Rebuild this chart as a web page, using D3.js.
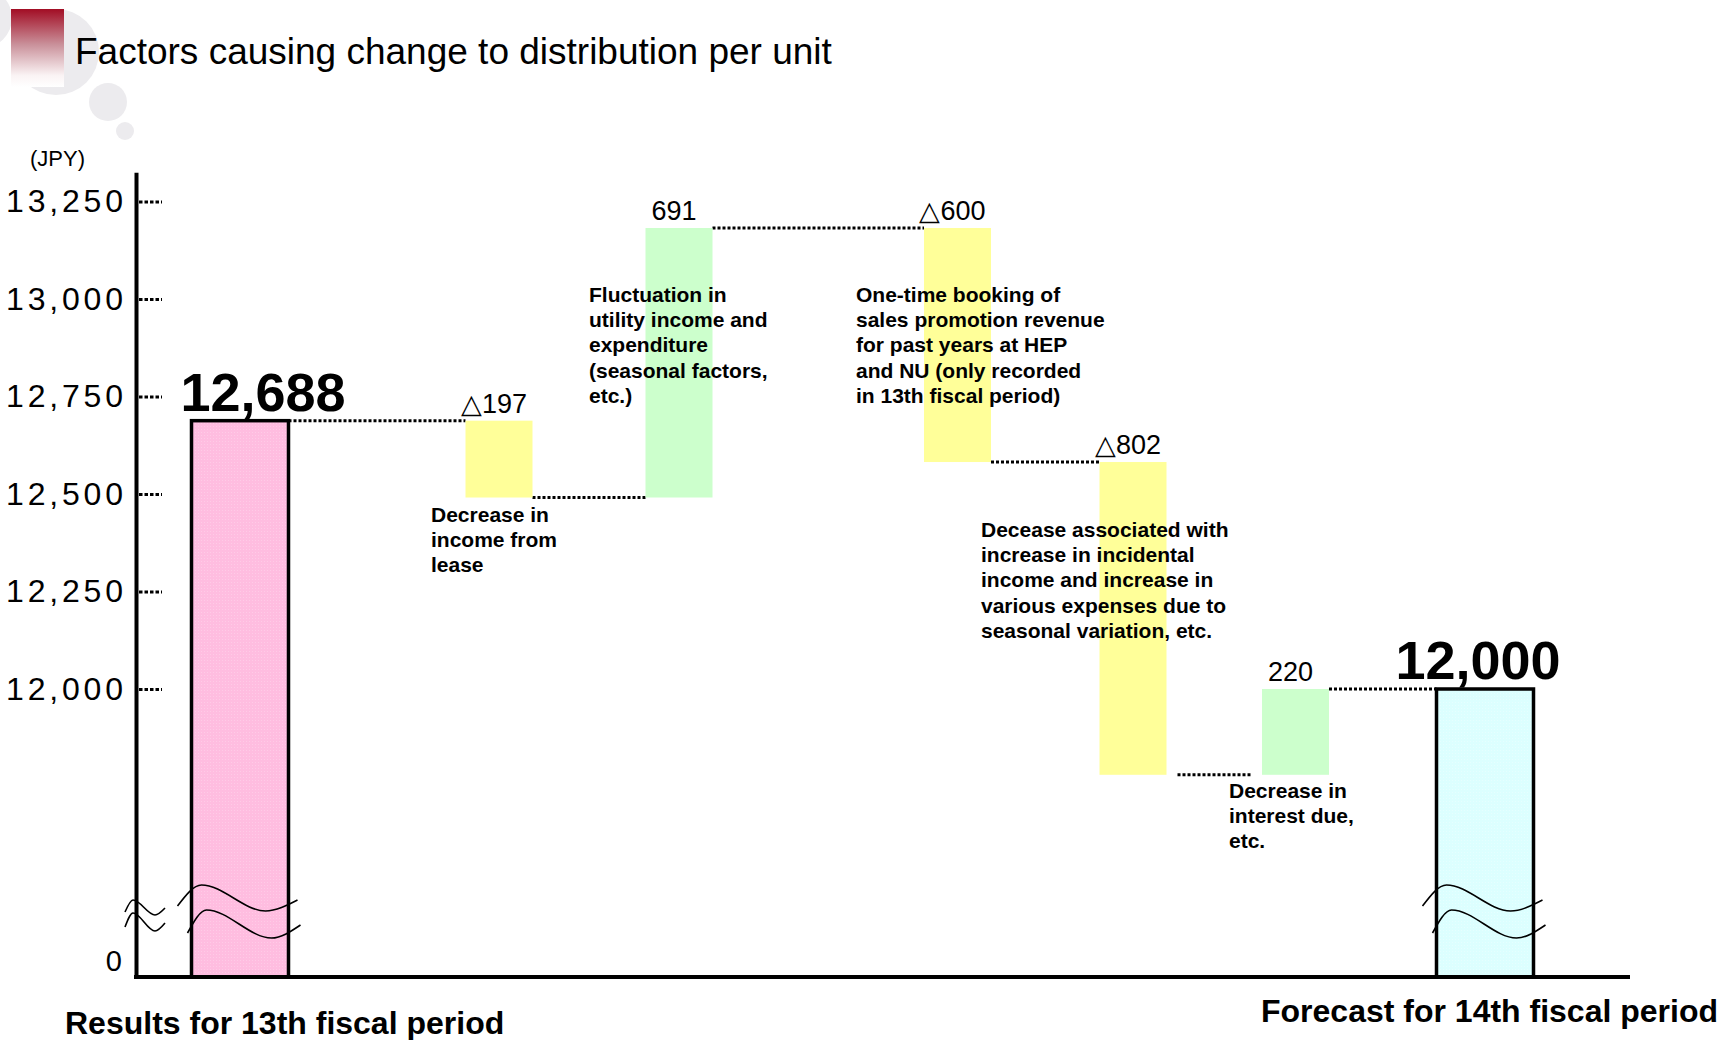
<!DOCTYPE html>
<html>
<head>
<meta charset="utf-8">
<script src="https://cdn.jsdelivr.net/npm/d3@7"></script>
<style>
  html, body { margin: 0; padding: 0; background: #fff; }
  svg { display: block; font-family: "Liberation Sans", Arial, Helvetica, sans-serif; }
</style>
</head>
<body>
<svg id="chart" width="1719" height="1040"></svg>
<script>
// Bridge of distribution per unit (JPY): 13th period result -> 14th period forecast

const title = "Factors causing change to distribution per unit";
const unitLabel = "(JPY)";

const categories = [
  "13th period result",
  "Lease income",
  "Utility income and expenditure",
  "Sales promotion revenue",
  "Incidental income and expenses",
  "Interest due",
  "14th period forecast"
];
const barKinds = ["total", "change", "change", "change", "change", "change", "total"];
const values = [12688, -197, 691, -600, -802, 220, 12000];
const valueLabels = ["12,688", "△197", "691", "△600", "△802", "220", "12,000"];

const notes = [
  [],
  ["Decrease in", "income from", "lease"],
  ["Fluctuation in", "utility income and", "expenditure", "(seasonal factors,", "etc.)"],
  ["One-time booking of", "sales promotion revenue", "for past years at HEP", "and NU (only recorded", "in 13th fiscal period)"],
  ["Decease associated with", "increase in incidental", "income and increase in", "various expenses due to", "seasonal variation, etc."],
  ["Decrease in", "interest due,", "etc."],
  []
];

const yTickValues = [0, 12000, 12250, 12500, 12750, 13000, 13250];
const periodLabels = ["Results for 13th fiscal period", "Forecast for 14th fiscal period"];

// ---------- layout ----------
const W = 1719, H = 1040;
const axisX = 136, axisRight = 1630;
const colCenters = [240, 499, 679, 957.5, 1133, 1295.5, 1485];
const totalWidth = 97, changeWidth = 67;
const totalLabelDx = [23, 0, 0, 0, 0, 0, -7];
const connectorInset = [0, 0, 0, 0, 11, 0];
const noteAnchors = [null, [431, 522], [589, 302], [856, 302], [981, 537], [1229, 798], null];
const noteLineHeight = 25.2;
const colors = { start: "#ffbde0", end: "#dcffff", down: "#ffff99", up: "#ccffcc" };

const svg = d3.select("#chart");

// Scales: the value axis is broken between 0 and the 12,000 region
const y = d3.scaleLinear()
  .domain([0, 11380, 13325])
  .range([977, 930.8, 172.25]);
const x = d3.scaleOrdinal().domain(categories).range(colCenters);

// ---------- fills ----------
const defs = svg.append("defs");
const grad = defs.append("linearGradient").attr("id", "markGrad")
  .attr("x1", 0).attr("y1", 0).attr("x2", 0).attr("y2", 1);
grad.append("stop").attr("offset", 0).attr("stop-color", "#a20d24");
grad.append("stop").attr("offset", 0.45).attr("stop-color", "#c98f99");
grad.append("stop").attr("offset", 0.85).attr("stop-color", "#faf3f4");
grad.append("stop").attr("offset", 1).attr("stop-color", "#ffffff");

function dotPattern(id, base, dot) {
  const p = defs.append("pattern").attr("id", id)
    .attr("patternUnits", "userSpaceOnUse").attr("width", 3).attr("height", 3);
  p.append("rect").attr("width", 3).attr("height", 3).attr("fill", base);
  p.append("rect").attr("width", 1).attr("height", 1).attr("fill", dot);
}
dotPattern("pinkFill", colors.start, "#ffcbe7");
dotPattern("cyanFill", colors.end, "#e6ffff");

// ---------- heading ----------
const deco = svg.append("g").attr("fill", "#ecebee");
deco.append("circle").attr("cx", -18).attr("cy", 18).attr("r", 30);
deco.append("circle").attr("cx", 56).attr("cy", 52).attr("r", 43);
deco.append("circle").attr("cx", 108).attr("cy", 102).attr("r", 19);
deco.append("circle").attr("cx", 125).attr("cy", 131).attr("r", 9);
svg.append("rect").attr("x", 11).attr("y", 9).attr("width", 53).attr("height", 78)
  .attr("fill", "url(#markGrad)");
svg.append("text").attr("x", 75).attr("y", 64)
  .attr("font-size", 37).attr("fill", "#000").text(title);

svg.append("text").attr("x", 30).attr("y", 166)
  .attr("font-size", 22).text(unitLabel);

// ---------- waterfall geometry ----------
let level = 0;
const steps = values.map((v, i) => {
  let lo, hi, after;
  if (barKinds[i] === "total") { lo = 0; hi = v; after = v; }
  else { const a = level, b = level + v; lo = Math.min(a, b); hi = Math.max(a, b); after = b; }
  level = after;
  const w = barKinds[i] === "total" ? totalWidth : changeWidth;
  return { i, cat: categories[i], kind: barKinds[i], v, lo, hi, after, w, cx: x(categories[i]) };
});

// ---------- connectors ----------
const conn = svg.append("g").attr("stroke", "#000").attr("stroke-width", 3)
  .attr("stroke-dasharray", "3,2");
steps.slice(0, -1).forEach((s, k) => {
  const n = steps[k + 1];
  const yy = y(s.after);
  conn.append("line")
    .attr("x1", s.cx + s.w / 2 + connectorInset[k]).attr("x2", n.cx - n.w / 2 - connectorInset[k])
    .attr("y1", yy).attr("y2", yy);
});

// ---------- bars ----------
svg.append("g").selectAll("rect").data(steps).join("rect")
  .attr("x", d => d.cx - d.w / 2)
  .attr("width", d => d.w)
  .attr("y", d => y(d.hi))
  .attr("height", d => y(d.lo) - y(d.hi))
  .attr("fill", d => d.kind === "total" ? (d.i === 0 ? "url(#pinkFill)" : "url(#cyanFill)")
                                         : (d.v < 0 ? colors.down : colors.up))
  .attr("stroke", d => d.kind === "total" ? "#000" : "none")
  .attr("stroke-width", 3.5);

// ---------- notes ----------
const noteG = svg.append("g").attr("font-size", 21).attr("font-weight", "bold").attr("fill", "#000");
notes.forEach((lines, i) => {
  if (!lines.length) return;
  const [nx, ny] = noteAnchors[i];
  const t = noteG.append("text").attr("x", nx).attr("y", ny);
  lines.forEach((ln, j) => t.append("tspan").attr("x", nx).attr("dy", j === 0 ? 0 : noteLineHeight).text(ln));
});

// ---------- value labels ----------
svg.append("g").selectAll("text").data(steps).join("text")
  .attr("text-anchor", "middle")
  .attr("x", d => d.kind === "total" ? d.cx + totalLabelDx[d.i] : d.cx - 5)
  .attr("y", d => y(d.hi) - (d.kind === "total" ? 10 : 8))
  .attr("font-size", d => d.kind === "total" ? 54 : 27)
  .attr("font-weight", d => d.kind === "total" ? "bold" : "normal")
  .text((d, i) => valueLabels[i]);

// ---------- value axis ----------
const yAxis = d3.axisLeft(y).tickValues(yTickValues).tickSize(0).tickSizeOuter(0)
  .tickPadding(14).tickFormat(d3.format(","));
const ag = svg.append("g").attr("transform", `translate(${axisX},0)`).call(yAxis);
ag.select(".domain").attr("stroke", "#000").attr("stroke-width", 4);
ag.selectAll(".tick text")
  .attr("fill", "#000")
  .attr("font-family", "\"Liberation Sans\", Arial, sans-serif")
  .attr("font-size", d => d === 0 ? 29 : 32)
  .each(function (d) {
    const t = d3.select(this);
    if (d === 0) {
      t.attr("x", -14).attr("y", -16);
    } else {
      t.attr("text-anchor", "start").attr("x", 6 - axisX)
        .attr("textLength", 117).attr("lengthAdjust", "spacing");
    }
  });
// dotted tick marks pointing into the plot
ag.selectAll(".tick").filter(d => d !== 0).append("line")
  .attr("x1", 3).attr("x2", 26).attr("y1", 0).attr("y2", 0)
  .attr("stroke", "#000").attr("stroke-width", 3).attr("stroke-dasharray", "3.5,2");

// category baseline
svg.append("line").attr("x1", axisX - 2).attr("x2", axisRight)
  .attr("y1", y(0)).attr("y2", y(0)).attr("stroke", "#000").attr("stroke-width", 4);

// ---------- axis-break marks ----------
const wave = d3.line().curve(d3.curveMonotoneX);
const brk = svg.append("g").attr("fill", "none").attr("stroke", "#000").attr("stroke-width", 1.6);
const crestY = 885;
brk.append("path").attr("d", wave([[125, crestY + 27], [133, crestY + 15], [155, crestY + 30], [165, crestY + 23]]));
brk.append("path").attr("d", wave([[125, crestY + 42], [133, crestY + 28], [155, crestY + 46], [165, crestY + 38]]));
steps.filter(d => d.kind === "total").forEach(d => {
  const L = d.cx - d.w / 2, R = d.cx + d.w / 2;
  brk.append("path").attr("d", wave([[L - 14, crestY + 21], [L + 10, crestY], [L + 74, crestY + 26], [R + 9, crestY + 15]]));
  brk.append("path").attr("d", wave([[L - 4, crestY + 48], [L + 15, crestY + 25], [L + 80, crestY + 53], [R + 12, crestY + 40]]));
});

// ---------- period labels ----------
const pl = svg.append("g").attr("font-size", 32).attr("font-weight", "bold");
pl.append("text").attr("x", 65).attr("y", 1034).text(periodLabels[0]);
pl.append("text").attr("x", 1261).attr("y", 1022).text(periodLabels[1]);
</script>
</body>
</html>
